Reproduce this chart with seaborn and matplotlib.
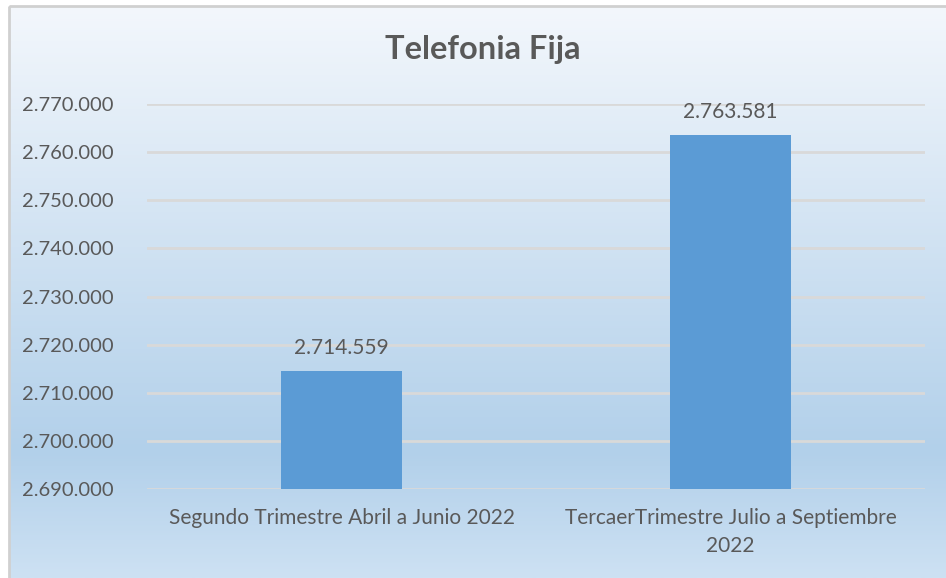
import numpy as np
import pandas as pd
import matplotlib
matplotlib.use("Agg")
import matplotlib.pyplot as plt
import seaborn as sns
from matplotlib.colors import LinearSegmentedColormap
from matplotlib.patches import Rectangle
from matplotlib.ticker import FuncFormatter

# data
categorias = [
    "Segundo Trimestre Abril a Junio 2022",
    "TercaerTrimestre Julio a Septiembre\n2022",
]
lineas = [2714559, 2763581]
y_ticks = [2690000, 2700000, 2710000, 2720000, 2730000, 2740000, 2750000, 2760000, 2770000]

df = pd.DataFrame({"categoria": categorias, "lineas": lineas})

sns.set_theme(style="white")
plt.rcParams["font.family"] = ["Lato", "DejaVu Sans"]

texto = "#595959"
barra = "#5B9BD5"

fig = plt.figure(figsize=(9.46, 5.78), dpi=100)
fig.patch.set_facecolor("white")

# gradient background of the chart area
bg = fig.add_axes([0, 0, 1, 1], zorder=-1)
bg.set_xlim(0, 946)
bg.set_ylim(578, 0)
bg.axis("off")
cmap = LinearSegmentedColormap.from_list(
    "fondo", [(0.0, "#F3F7FC"), (0.78, "#B2D0EA"), (1.0, "#CDE1F3")]
)
grad = np.linspace(0, 1, 256).reshape(-1, 1)
bg.imshow(grad, cmap=cmap, aspect="auto", extent=[9, 946, 578, 6])
bg.add_patch(Rectangle((9, 6), 940, 580, fill=False, edgecolor="#D0D0D0", lw=2))

ax = fig.add_axes([147 / 946, 1 - 489 / 578, 778 / 946, 385 / 578])
ax.patch.set_alpha(0)

sns.barplot(data=df, x="categoria", y="lineas", color=barra, width=0.31,
            saturation=1, linewidth=0, ax=ax, zorder=3)

ax.set_ylim(y_ticks[0], y_ticks[-1])
ax.set_yticks(y_ticks)
fmt = FuncFormatter(lambda v, p: f"{int(v):,}".replace(",", "."))
ax.yaxis.set_major_formatter(fmt)
ax.grid(axis="y", color="#D9D9D9", lw=2, zorder=0)
ax.set_axisbelow(True)
for s in ax.spines.values():
    s.set_visible(False)

ax.set_xlabel("")
ax.set_ylabel("")
ax.tick_params(axis="y", labelsize=14.5, colors=texto, pad=24, length=0)
ax.tick_params(axis="x", labelsize=15, colors=texto, pad=14, length=0)
for lbl in ax.get_xticklabels():
    lbl.set_linespacing(1.45)

for i, v in enumerate(lineas):
    ax.annotate(fmt(v, None), (i, v), xytext=(0, 9), textcoords="offset points",
                ha="center", va="bottom", fontsize=15, color=texto)

fig.text(483 / 946, 1 - 50 / 578, "Telefonia Fija", ha="center", va="center",
         fontsize=23.5, fontweight="bold", color=texto)

fig.savefig("out.png", dpi=100)
